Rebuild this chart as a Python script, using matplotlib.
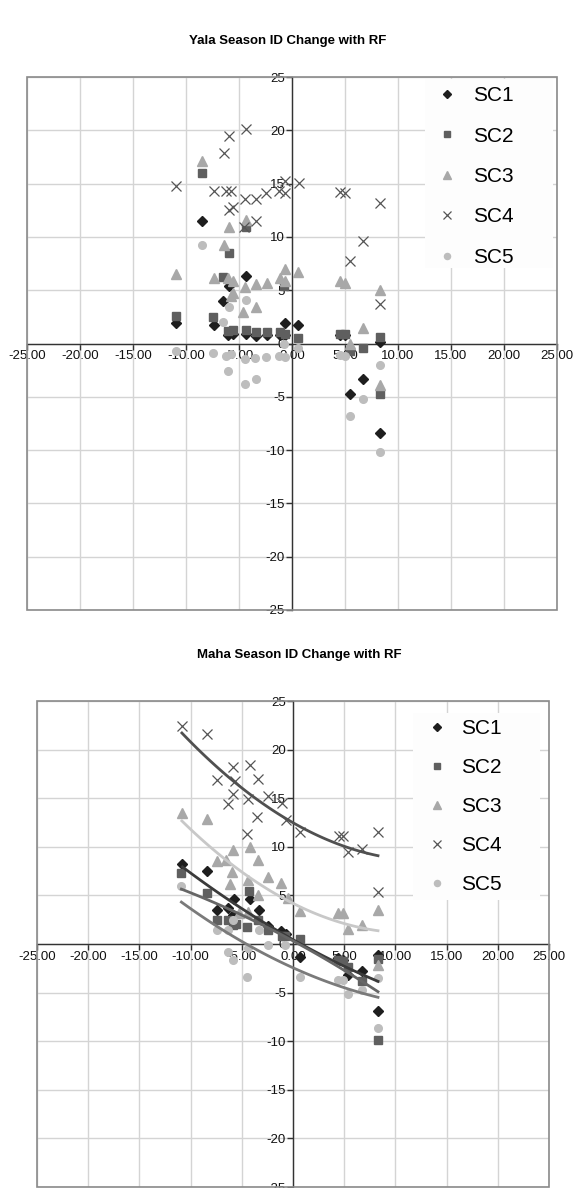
import numpy as np
import matplotlib
matplotlib.use('Agg')
import matplotlib.pyplot as plt
from matplotlib.patches import Rectangle

plt.rcParams['font.family'] = ['Liberation Sans', 'DejaVu Sans']

# Yala season (top chart)
yala_sc1_x = [-10.9, -8.5, -7.4, -6.5, -5.9, -4.3, -6.0, -5.6, -4.3, -3.4, -2.4, -1.1, -0.7, -0.7, 0.6, 4.5, 5.0, 5.5, 6.7, 8.3, 8.3]
yala_sc1_y = [1.9, 11.5, 1.7, 4.0, 5.4, 6.3, 0.8, 0.9, 0.9, 0.7, 0.8, 0.8, 0.8, 1.9, 1.7, 0.8, 0.8, -4.7, -3.3, -8.4, 0.1]
yala_sc2_x = [-10.9, -8.5, -7.5, -6.5, -5.9, -4.3, -6.0, -5.6, -4.3, -3.4, -2.4, -1.1, -0.7, -0.8, 0.6, 4.5, 5.0, 5.5, 6.7, 8.3, 8.3]
yala_sc2_y = [2.6, 16.0, 2.5, 6.2, 8.5, 10.9, 1.2, 1.3, 1.3, 1.1, 1.1, 1.1, 0.9, 5.4, 0.5, 0.9, 0.9, -0.7, -0.4, 0.6, -4.7]
yala_sc3_x = [-10.9, -8.5, -7.4, -6.4, -5.9, -6.0, -5.6, -5.8, -5.6, -4.3, -4.4, -4.6, -3.4, -3.4, -2.4, -1.1, -0.7, -0.7, 0.6, 4.5, 5.0, 5.5, 6.7, 8.3, 8.3]
yala_sc3_y = [6.5, 17.1, 6.1, 9.2, 10.9, 6.1, 5.9, 4.5, 4.7, 11.6, 5.3, 3.0, 5.6, 3.4, 5.7, 6.1, 7.0, 5.9, 6.7, 5.9, 5.7, 0.0, 1.5, 5.0, -3.9]
yala_sc4_x = [-10.9, -7.4, -6.4, -6.2, -5.8, -5.9, -5.6, -5.9, -4.3, -4.5, -4.4, -3.4, -3.4, -2.5, -1.2, -0.7, -0.7, 0.7, 4.5, 5.0, 5.5, 6.7, 8.3, 8.3]
yala_sc4_y = [14.8, 14.3, 17.9, 14.3, 14.3, 12.5, 12.8, 19.5, 20.1, 10.9, 13.6, 11.5, 13.6, 14.1, 14.3, 14.1, 15.2, 15.1, 14.2, 14.1, 7.7, 9.6, 13.2, 3.7]
yala_sc5_x = [-10.9, -8.5, -7.5, -6.5, -5.9, -6.2, -5.8, -6.0, -4.3, -4.4, -4.4, -3.5, -3.4, -2.5, -1.2, -0.7, -0.8, 0.6, 4.5, 5.0, 5.5, 6.7, 8.3, 8.3]
yala_sc5_y = [-0.7, 9.2, -0.9, 2.0, 3.4, -1.2, -1.0, -2.6, 4.1, -1.5, -3.8, -1.4, -3.3, -1.3, -1.2, -1.3, 0.0, -0.4, -1.1, -1.2, -6.8, -5.2, -2.0, -10.2]

# Maha season (bottom chart)
maha_sc1_x = [-10.8, -8.4, -7.4, -6.3, -5.8, -5.9, -4.2, -3.3, -2.4, -1.2, -0.7, 0.7, 4.4, 4.9, 5.4, 6.7, 8.3, 8.3]
maha_sc1_y = [8.2, 7.5, 3.5, 3.7, 4.6, 3.0, 4.6, 3.5, 1.9, 1.3, 1.0, -1.3, -1.4, -1.6, -3.2, -2.8, -1.1, -6.9]
maha_sc2_x = [-10.9, -8.4, -7.4, -6.3, -5.9, -5.6, -4.3, -4.5, -3.4, -2.4, -1.1, -0.8, 0.7, 4.4, 4.9, 5.4, 6.7, 8.3, 8.3]
maha_sc2_y = [7.3, 5.2, 2.5, 2.5, 2.0, 2.1, 5.5, 1.8, 2.5, 1.4, 0.8, 0.8, 0.5, -1.6, -1.8, -2.4, -3.8, -1.5, -9.9]
maha_sc3_x = [-10.85, -8.4, -7.4, -6.5, -5.85, -4.2, -3.4, -6.0, -6.2, -4.4, -2.4, -1.2, -3.4, -4.4, -5.3, -0.5, 0.7, 4.4, 4.9, 5.4, 6.7, 8.3, 8.3]
maha_sc3_y = [13.5, 12.9, 8.5, 8.6, 9.7, 10.0, 8.6, 7.4, 6.2, 6.6, 6.9, 6.3, 5.0, 3.3, 3.2, 4.7, 3.4, 3.2, 3.2, 1.5, 2.0, 3.5, -2.2]
maha_sc4_x = [-10.85, -8.4, -7.4, -5.85, -5.7, -5.85, -6.3, -4.2, -3.4, -4.4, -3.5, -4.5, -2.4, -1.1, -0.7, 0.7, 4.5, 4.9, 5.4, 6.7, 8.3, 8.3]
maha_sc4_y = [22.4, 21.6, 16.9, 18.2, 16.8, 15.4, 14.4, 18.4, 17.0, 14.9, 13.1, 11.3, 15.2, 14.5, 12.8, 11.5, 11.1, 11.1, 9.5, 9.8, 11.5, 5.4]
maha_sc5_x = [-10.9, -7.4, -6.3, -5.85, -6.3, -5.9, -4.4, -4.5, -3.3, -2.4, -0.8, 0.7, 4.4, 4.9, 5.4, 6.7, 8.3, 8.3]
maha_sc5_y = [6.0, 1.4, 1.4, 2.5, -0.8, -1.6, -0.4, -3.4, 1.4, -0.1, -0.1, -3.4, -3.7, -3.7, -5.1, -4.7, -3.5, -8.6]

labels = ['SC1', 'SC2', 'SC3', 'SC4', 'SC5']
ticks = [-25, -20, -15, -10, -5, 0, 5, 10, 15, 20, 25]

# marker styles like the excel defaults in grey
styles = [
    dict(marker='D', color='#1e1e1e', ms=5.5),
    dict(marker='s', color='#5f5f5f', ms=5.5),
    dict(marker='^', color='#a8a8a8', ms=6.5),
    dict(marker='x', color='#555555', ms=6.5, mew=0.9),
    dict(marker='o', color='#bdbdbd', ms=5.5),
]
trend_colors = ['#3a3a3a', '#666666', '#c8c8c8', '#505050', '#7a7a7a']


def setup_axes(ax):
    ax.set_xlim(-25, 25)
    ax.set_ylim(-25, 25)
    ax.set_xticks(ticks)
    ax.set_yticks(ticks)
    ax.set_xticklabels([f'{t:.2f}' for t in ticks])
    ax.set_yticklabels([str(t) for t in ticks])
    ax.grid(True, color='#d4d4d4', lw=1)
    ax.set_axisbelow(True)
    ax.spines['left'].set_position(('data', 0))
    ax.spines['bottom'].set_position(('data', 0))
    ax.spines['top'].set_visible(False)
    ax.spines['right'].set_visible(False)
    for s in ['left', 'bottom']:
        ax.spines[s].set_color('#333333')
        ax.spines[s].set_linewidth(1)
    ax.tick_params(direction='out', length=4, width=1, color='#333333',
                   labelsize=9.5, labelcolor='#111111', pad=1)
    ax.add_patch(Rectangle((0, 0), 1, 1, transform=ax.transAxes, fill=False,
                           ec='#8a8a8a', lw=1.2, zorder=5, clip_on=False))


def add_legend(ax, anchor, box, textpad, spacing):
    # near white box behind legend hides the grid like in excel
    ax.add_patch(Rectangle(box[:2], box[2], box[3], transform=ax.transAxes,
                           fc='#fdfdfd', ec='none', zorder=2.5))
    handles = [ax.plot([], [], ls='none', **st)[0] for st in styles]
    leg = ax.legend(handles, labels, loc='upper left', bbox_to_anchor=anchor,
                    fontsize=15, frameon=False, markerscale=0.8,
                    handletextpad=textpad, labelspacing=spacing, borderpad=0,
                    borderaxespad=0, handlelength=1.0)
    leg.set_zorder(6)


fig = plt.figure(figsize=(5.76, 11.88), dpi=100)

# top chart
ax1 = fig.add_axes([27 / 576, 1 - 610 / 1188, 530 / 576, 533 / 1188])
setup_axes(ax1)
yala = [(yala_sc1_x, yala_sc1_y), (yala_sc2_x, yala_sc2_y), (yala_sc3_x, yala_sc3_y),
        (yala_sc4_x, yala_sc4_y), (yala_sc5_x, yala_sc5_y)]
for (x, y), st in zip(yala, styles):
    ax1.plot(x, y, ls='none', zorder=3, **st)
add_legend(ax1, (0.773, 0.983), (0.751, 0.642, 0.241, 0.355), 0.75, 1.03)
fig.text(0.5, 1 - 41 / 1188, 'Yala Season ID Change with RF', ha='center', va='center',
         fontsize=9.5, fontweight='bold')

# bottom chart
ax2 = fig.add_axes([37 / 576, 1 - 1187 / 1188, 512 / 576, 486 / 1188])
setup_axes(ax2)
maha = [(maha_sc1_x, maha_sc1_y), (maha_sc2_x, maha_sc2_y), (maha_sc3_x, maha_sc3_y),
        (maha_sc4_x, maha_sc4_y), (maha_sc5_x, maha_sc5_y)]
for (x, y), st, tc in zip(maha, styles, trend_colors):
    ax2.plot(x, y, ls='none', zorder=3, **st)
    # 2nd order polynomial trendline
    coef = np.polyfit(x, y, 2)
    xx = np.linspace(min(x), max(x), 100)
    ax2.plot(xx, np.polyval(coef, xx), color=tc, lw=2, zorder=4)
add_legend(ax2, (0.761, 0.962), (0.734, 0.59, 0.248, 0.385), 0.65, 0.96)
fig.text(0.52, 1 - 655 / 1188, 'Maha Season ID Change with RF', ha='center', va='center',
         fontsize=9.5, fontweight='bold')

plt.savefig('out.png', dpi=100)
